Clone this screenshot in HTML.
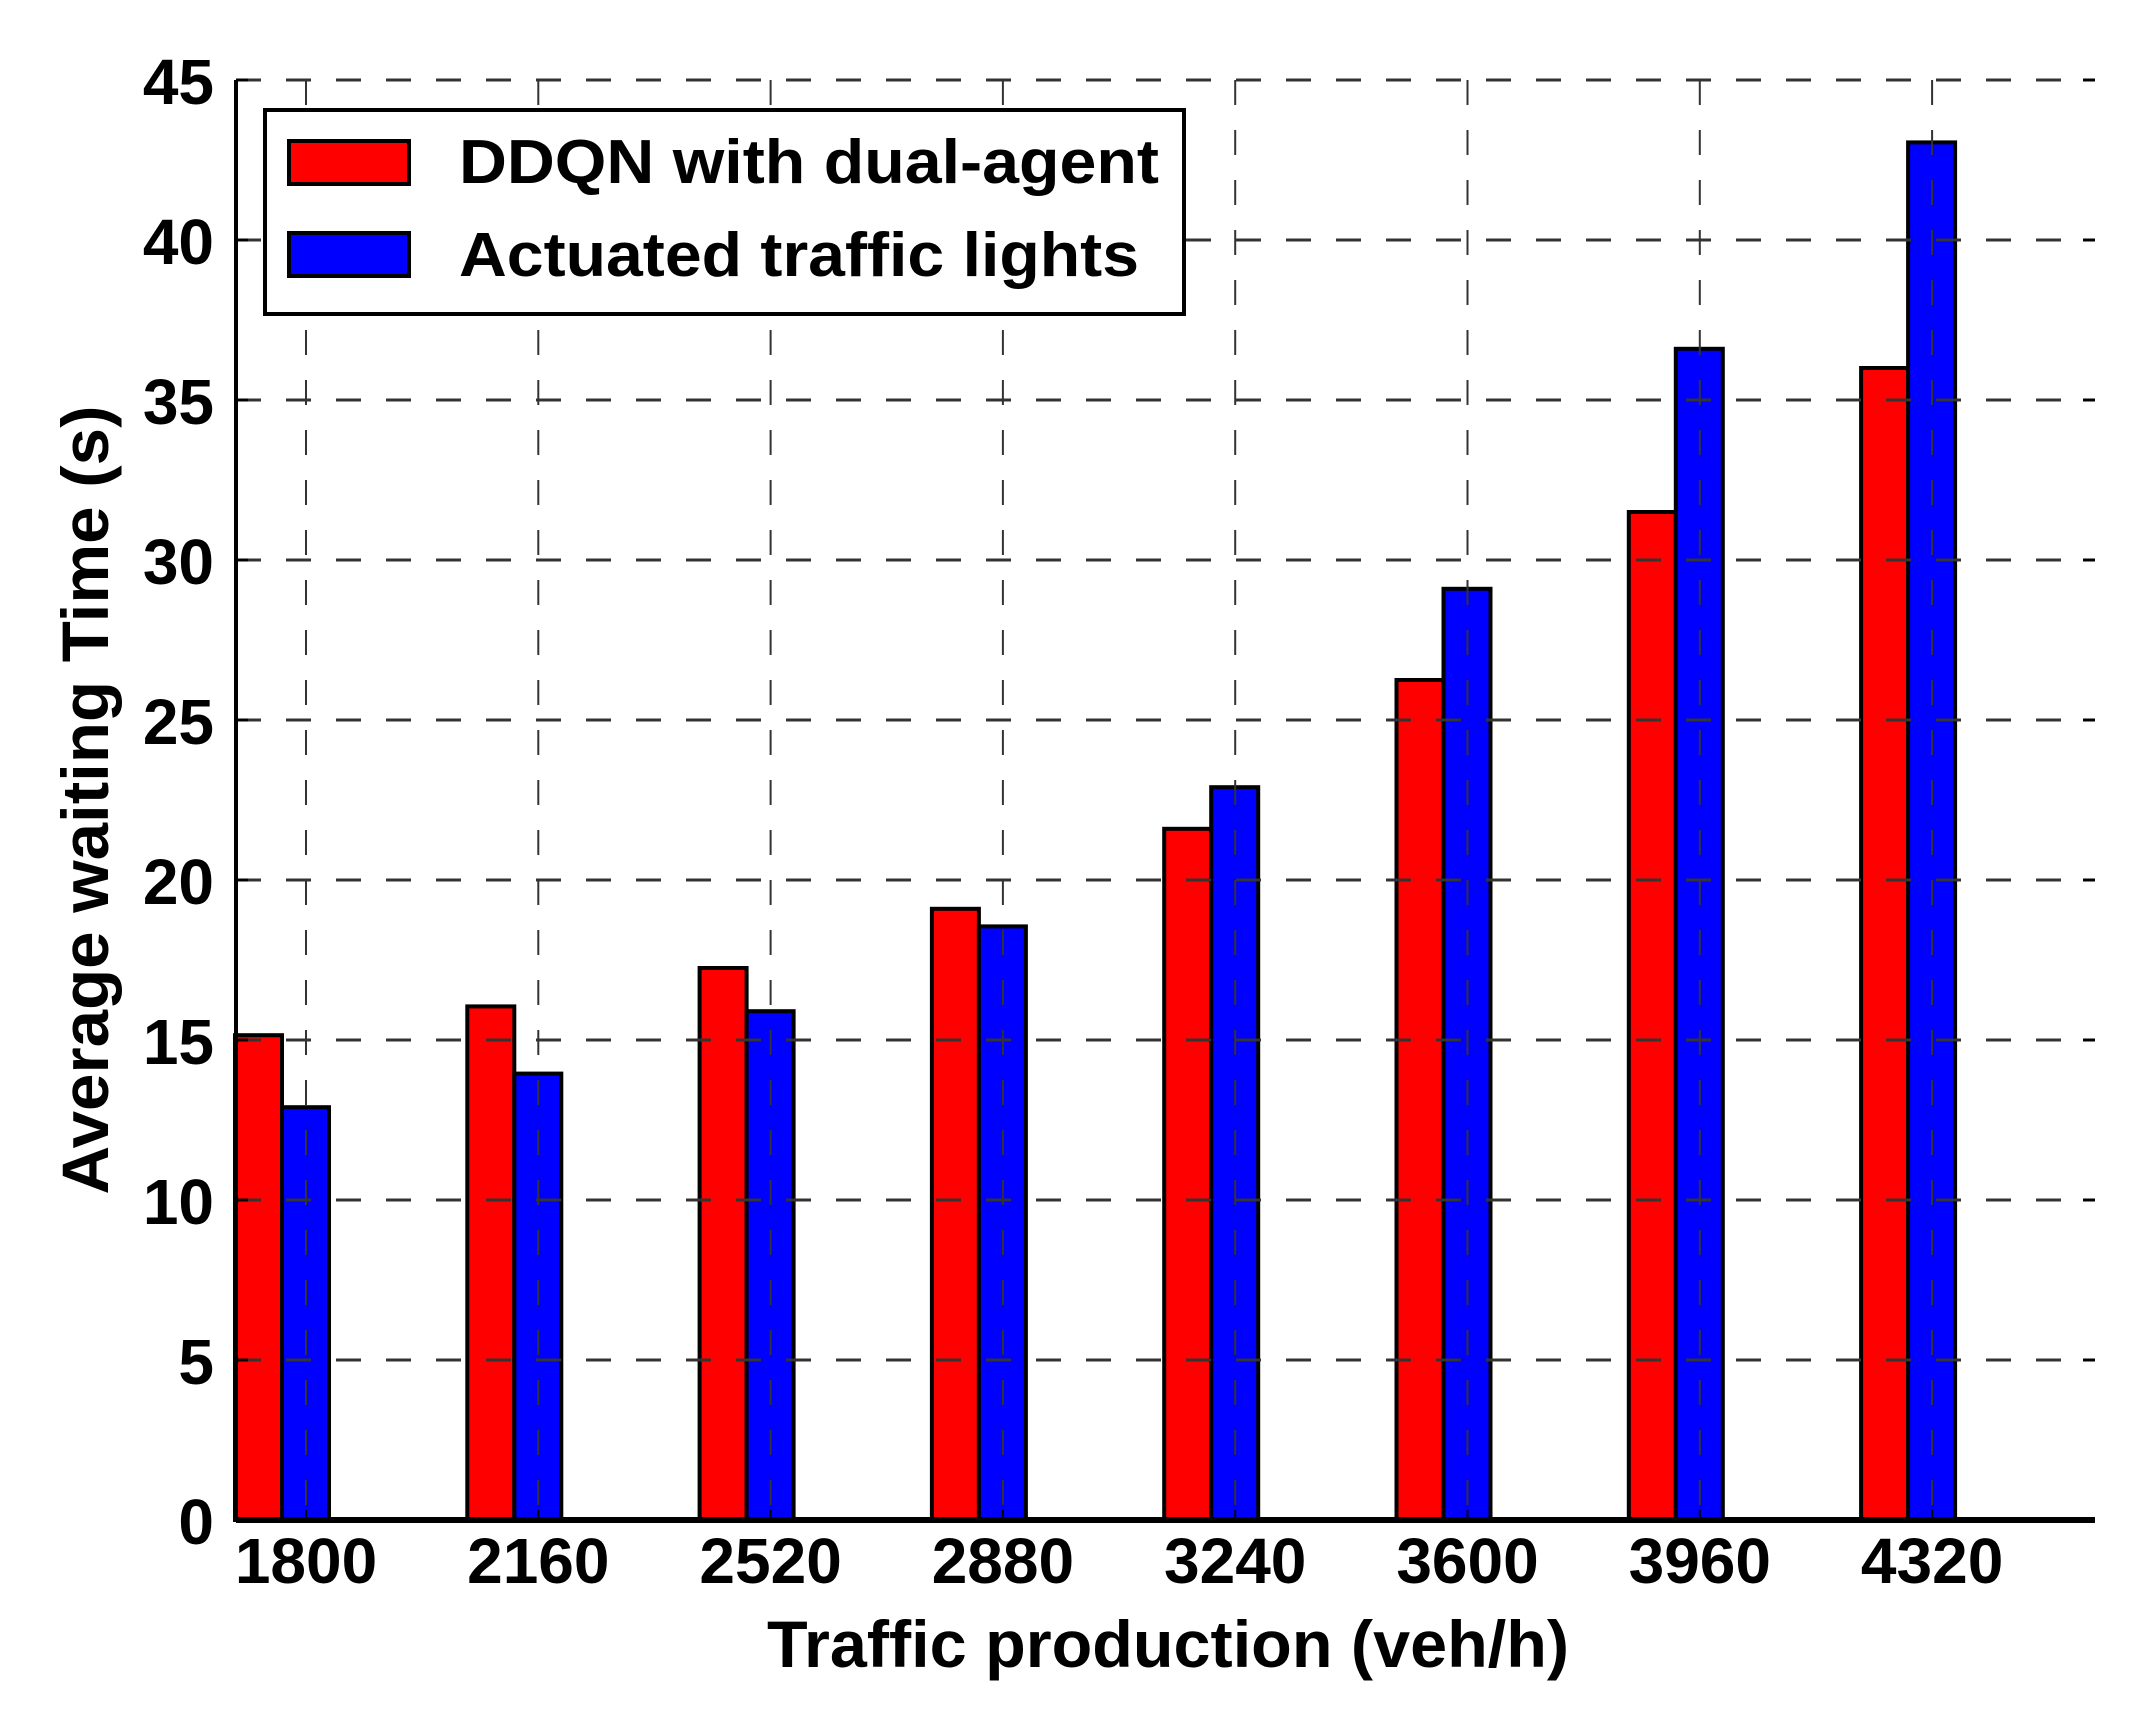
<!DOCTYPE html>
<html><head><meta charset="utf-8"><style>
html,body{margin:0;padding:0;background:#fff;}
svg{display:block;font-family:"Liberation Sans",Arial,sans-serif;font-weight:bold;}
</style></head><body>
<svg id="chart" width="2132" height="1716" viewBox="0 0 2132 1716" xmlns="http://www.w3.org/2000/svg">
<g id="bars"></g>
<g id="grid"></g>
<g id="axes"></g>
<text x="1168" y="1667" font-size="66" text-anchor="middle" textLength="802" lengthAdjust="spacingAndGlyphs">Traffic production (veh/h)</text>
<text transform="translate(108,800) rotate(-90)" font-size="66" text-anchor="middle" textLength="789" lengthAdjust="spacingAndGlyphs">Average waiting Time (s)</text>
<g>
<rect x="265" y="110" width="919" height="204" fill="#fff" stroke="#000" stroke-width="4"/>
<rect x="289" y="141" width="120" height="43" fill="#f00" stroke="#000" stroke-width="4"/>
<text x="459" y="183" font-size="62" textLength="700" lengthAdjust="spacingAndGlyphs">DDQN with dual-agent</text>
<rect x="289" y="233" width="120" height="43" fill="#00f" stroke="#000" stroke-width="4"/>
<text x="459" y="276" font-size="62" textLength="680" lengthAdjust="spacingAndGlyphs">Actuated traffic lights</text>
</g>
</svg>
<script>
const categories = ["1800","2160","2520","2880","3240","3600","3960","4320"];
const ddqnValues = [15.15, 16.05, 17.25, 19.1, 21.6, 26.25, 31.5, 36.0];
const actuatedValues = [12.9, 13.95, 15.9, 18.55, 22.9, 29.1, 36.6, 43.05];
const yTicks = [0,5,10,15,20,25,30,35,40,45];

const NS = "http://www.w3.org/2000/svg";
const L = 236, R = 2095, Y0 = 1520, PXU = 32;
const C0 = 306, STEP = 232.3;
function xc(i){ return C0 + i*STEP; }
function yv(v){ return Y0 - v*PXU; }
function mk(tag, attrs, parent){ const e=document.createElementNS(NS,tag); for(const k in attrs) e.setAttribute(k,attrs[k]); parent.appendChild(e); return e; }

const bars = document.getElementById('bars');
const grid = document.getElementById('grid');
const axes = document.getElementById('axes');

categories.forEach((c,i)=>{
  const cx = xc(i);
  const r = mk('rect',{x:cx-71,y:yv(ddqnValues[i]),width:47,height:Y0-yv(ddqnValues[i]),fill:'#f00',stroke:'#000','stroke-width':4},bars);
  
  
  const b = mk('rect',{x:cx-24,y:yv(actuatedValues[i]),width:47,height:Y0-yv(actuatedValues[i]),fill:'#00f',stroke:'#000','stroke-width':4},bars);
  
  
  const g = mk('line',{x1:cx,x2:cx,y1:yv(45),y2:Y0,stroke:'#333','stroke-width':2,'stroke-dasharray':'25 25'},grid);
  
  
  const t = mk('text',{x:cx,y:1583,'font-size':64,'text-anchor':'middle'},axes);
  t.textContent = c;
  
  
  mk('line',{x1:cx,x2:cx,y1:Y0,y2:Y0-10,stroke:'#000','stroke-width':2},axes);
});
yTicks.forEach(v=>{
  const y = yv(v);
  if(v>0){
    const g = mk('line',{x1:L,x2:R,y1:y,y2:y,stroke:'#333','stroke-width':3,'stroke-dasharray':'25 25'},grid);
    
    
  }
  mk('line',{x1:L,x2:L+12,y1:y,y2:y,stroke:'#000','stroke-width':3},axes);
  mk('line',{x1:R,x2:R-12,y1:y,y2:y,stroke:'#000','stroke-width':3},axes);
  const t = mk('text',{x:214,y:y+24,'font-size':64,'text-anchor':'end'},axes);
  t.textContent = v;
  
  
});
const yl = mk('line',{x1:L,x2:L,y1:yv(45),y2:Y0,stroke:'#000','stroke-width':4},axes);


const xl = mk('line',{x1:L,x2:R,y1:Y0,y2:Y0,stroke:'#000','stroke-width':6},axes);


</script>
</body></html>
